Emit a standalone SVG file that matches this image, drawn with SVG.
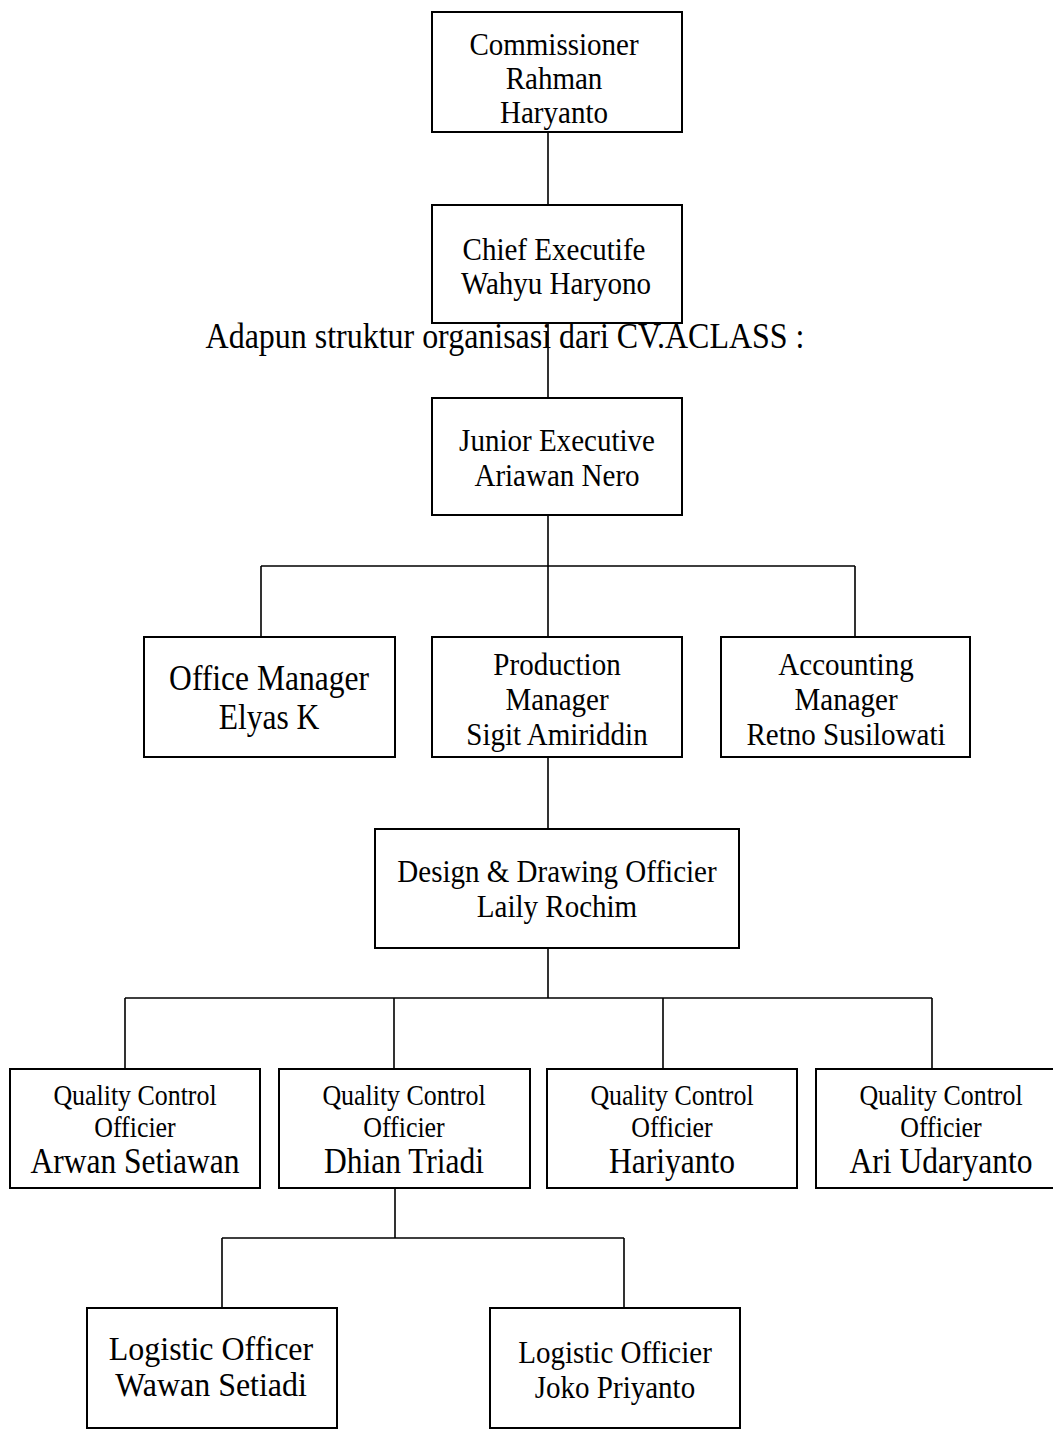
<svg xmlns="http://www.w3.org/2000/svg" width="1053" height="1429" viewBox="0 0 1053 1429">
<style>
.box{fill:#fff;stroke:#000;stroke-width:2}
.ln{fill:none;stroke:#000;stroke-width:1.6}
text{font-family:"Liberation Serif","Times New Roman",serif;fill:#000;text-anchor:middle}
.f29{font-size:32.5px}
.f26{font-size:29px}
.f31{font-size:35.3px}
.f32{font-size:35.8px}
.f34{font-size:34px}
</style>
<rect width="1053" height="1429" fill="#fff"/>
<g id="connectors">
<path class="ln" d="M548 132V205M548 323V398M548 515V566M261 566H855M261 566V637M548 566V637M855 566V637M548 757V829M548 948V998M125 998H932M125 998V1069M394 998V1069M663 998V1069M932 998V1069M395 1188V1238M222 1238H624M222 1238V1308M624 1238V1308"/>
</g>
<g id="title"><text class="f32" transform="translate(505 348) scale(0.893 1)">Adapun struktur organisasi dari CV.ACLASS :</text></g>
<g id="commissioner"><rect class="box" x="432" y="12" width="250" height="120"/>
<text class="f29" transform="translate(554 55) scale(0.893 1)">Commissioner</text>
<text class="f29" transform="translate(554 89) scale(0.893 1)">Rahman</text>
<text class="f29" transform="translate(554 123) scale(0.893 1)">Haryanto</text></g>
<g id="chief"><rect class="box" x="432" y="205" width="250" height="118"/>
<text class="f29" transform="translate(554 260) scale(0.893 1)">Chief Executife</text>
<text class="f29" transform="translate(556 294) scale(0.893 1)">Wahyu Haryono</text></g>
<g id="junior"><rect class="box" x="432" y="398" width="250" height="117"/>
<text class="f29" transform="translate(557 451) scale(0.893 1)">Junior Executive</text>
<text class="f29" transform="translate(557 486) scale(0.893 1)">Ariawan Nero</text></g>
<g id="office"><rect class="box" x="144" y="637" width="251" height="120"/>
<text class="f31" transform="translate(269 690) scale(0.893 1)">Office Manager</text>
<text class="f31" transform="translate(269 729) scale(0.893 1)">Elyas K</text></g>
<g id="production"><rect class="box" x="432" y="637" width="250" height="120"/>
<text class="f29" transform="translate(557 675) scale(0.893 1)">Production</text>
<text class="f29" transform="translate(557 710) scale(0.893 1)">Manager</text>
<text class="f29" transform="translate(557 745) scale(0.893 1)">Sigit Amiriddin</text></g>
<g id="accounting"><rect class="box" x="721" y="637" width="249" height="120"/>
<text class="f29" transform="translate(846 675) scale(0.893 1)">Accounting</text>
<text class="f29" transform="translate(846 710) scale(0.893 1)">Manager</text>
<text class="f29" transform="translate(846 745) scale(0.893 1)">Retno Susilowati</text></g>
<g id="design"><rect class="box" x="375" y="829" width="364" height="119"/>
<text class="f29" transform="translate(557 882) scale(0.893 1)">Design &amp; Drawing Officier</text>
<text class="f29" transform="translate(557 917) scale(0.893 1)">Laily Rochim</text></g>
<g id="qc1"><rect class="box" x="10" y="1069" width="250" height="119"/>
<text class="f26" transform="translate(135 1105) scale(0.893 1)">Quality Control</text>
<text class="f26" transform="translate(135 1137) scale(0.893 1)">Officier</text>
<text class="f31" transform="translate(135 1173) scale(0.893 1)">Arwan Setiawan</text></g>
<g id="qc2"><rect class="box" x="279" y="1069" width="251" height="119"/>
<text class="f26" transform="translate(404 1105) scale(0.893 1)">Quality Control</text>
<text class="f26" transform="translate(404 1137) scale(0.893 1)">Officier</text>
<text class="f31" transform="translate(404 1173) scale(0.893 1)">Dhian Triadi</text></g>
<g id="qc3"><rect class="box" x="547" y="1069" width="250" height="119"/>
<text class="f26" transform="translate(672 1105) scale(0.893 1)">Quality Control</text>
<text class="f26" transform="translate(672 1137) scale(0.893 1)">Officier</text>
<text class="f31" transform="translate(672 1173) scale(0.893 1)">Hariyanto</text></g>
<g id="qc4"><rect class="box" x="816" y="1069" width="250" height="119"/>
<text class="f26" transform="translate(941 1105) scale(0.893 1)">Quality Control</text>
<text class="f26" transform="translate(941 1137) scale(0.893 1)">Officier</text>
<text class="f31" transform="translate(941 1173) scale(0.893 1)">Ari Udaryanto</text></g>
<g id="log1"><rect class="box" x="87" y="1308" width="250" height="120"/>
<text class="f34" transform="translate(211 1360) scale(0.94 1)">Logistic Officer</text>
<text class="f34" transform="translate(211 1396) scale(0.94 1)">Wawan Setiadi</text></g>
<g id="log2"><rect class="box" x="490" y="1308" width="250" height="120"/>
<text class="f29" transform="translate(615 1363) scale(0.893 1)">Logistic Officier</text>
<text class="f29" transform="translate(615 1398) scale(0.893 1)">Joko Priyanto</text></g>
</svg>
